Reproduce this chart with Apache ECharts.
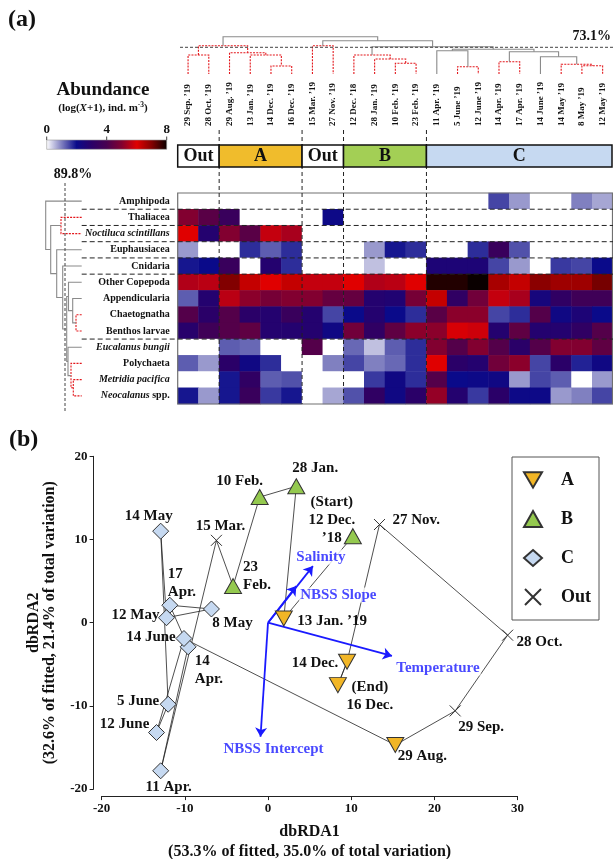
<!DOCTYPE html>
<html>
<head>
<meta charset="utf-8">
<script src="https://cdn.jsdelivr.net/npm/echarts@6/dist/echarts.min.js"></script>
<style>
  html, body { margin: 0; padding: 0; background: #fff; }
  #main { width: 613px; height: 859px; }
</style>
</head>
<body>
<div id="main"></div>
<script>
// ---- heatmap: samples (columns, cluster order) and taxa (rows) ----
const colDates = ["29 Sep. ’19", "28 Oct. ’19", "29 Aug. ’19", "13 Jan. ’19", "14 Dec. ’19", "16 Dec. ’19",
  "15 Mar. ’19", "27 Nov. ’19", "12 Dec. ’18", "28 Jan. ’19", "10 Feb. ’19", "23 Feb. ’19",
  "11 Apr. ’19", "5 June ’19", "12 June ’19", "14 Apr. ’19", "17 Apr. ’19", "14 June ’19",
  "14 May ’19", "8 May ’19", "12 May ’19"];
const taxa = ["Amphipoda", "Thaliacea", "Noctiluca scintillans", "Euphausiacea", "Cnidaria",
  "Other Copepoda", "Appendicularia", "Chaetognatha", "Benthos larvae", "Eucalanus bungii",
  "Polychaeta", "Metridia pacifica", "Neocalanus spp."];

// log(X+1) abundance, one row per taxon
const amphipoda      = [0, 0, 0, 0, 0, 0, 0, 0, 0, 0, 0, 0, 0, 0, 0, 1.5, 0.8, 0, 0, 1.0, 0.7];
const thaliacea      = [5.0, 4.3, 3.5, 0, 0, 0, 0, 2.1, 0, 0, 0, 0, 0, 0, 0, 0, 0, 0, 0, 0, 0];
const noctiluca      = [6.0, 2.8, 5.0, 4.3, 5.7, 5.4, 0, 0, 0, 0, 0, 0, 0, 0, 0, 0, 0, 0, 0, 0, 0];
const euphausiacea   = [0.8, 0, 0, 1.7, 1.3, 1.7, 0, 0, 0, 0.8, 1.9, 1.7, 0, 0, 1.7, 3.5, 1.4, 0, 0, 0, 0];
const cnidaria       = [1.9, 2.0, 3.5, 0, 2.8, 1.7, 0, 0, 0, 0.5, 0, 0, 2.6, 2.6, 2.6, 1.5, 0.8, 0, 1.6, 1.5, 2.0];
const otherCopepoda  = [5.5, 5.6, 7.0, 6.3, 6.0, 6.3, 5.7, 5.7, 6.0, 5.5, 5.6, 6.0, 7.8, 7.8, 8.0, 6.6, 6.3, 6.9, 6.7, 6.7, 7.1];
const appendicularia = [1.3, 2.8, 5.6, 5.1, 4.8, 5.0, 5.0, 4.5, 4.5, 2.8, 2.7, 4.8, 6.3, 3.2, 4.7, 5.7, 5.4, 2.4, 3.2, 3.7, 3.7];
const chaetognatha   = [4.2, 3.0, 4.2, 3.0, 2.8, 3.5, 2.8, 1.5, 2.0, 2.8, 2.0, 1.7, 4.3, 5.1, 5.1, 1.5, 1.7, 4.2, 2.2, 2.6, 2.0];
const benthosLarvae  = [2.9, 3.7, 4.2, 4.4, 2.8, 2.8, 2.8, 2.2, 4.7, 3.2, 4.4, 5.1, 5.1, 5.9, 5.8, 2.8, 4.4, 2.8, 2.8, 3.2, 4.2];
const eucalanus      = [0, 0, 1.3, 1.2, 0, 0, 4.2, 0, 1.2, 0.5, 1.3, 1.7, 5.0, 4.2, 5.0, 4.2, 3.0, 4.2, 5.0, 5.0, 4.4];
const polychaeta     = [1.3, 0.8, 3.0, 2.2, 1.7, 0, 0, 1.0, 1.5, 1.0, 1.2, 1.7, 6.0, 3.0, 2.8, 4.7, 5.1, 1.5, 3.0, 1.8, 2.2];
const metridia       = [0, 0, 1.9, 3.2, 1.3, 1.4, 0, 0, 0, 1.6, 2.2, 1.7, 4.2, 2.0, 2.1, 2.2, 0.8, 1.5, 1.3, 0, 0.8];
const neocalanus     = [1.9, 0.8, 1.9, 3.5, 1.6, 1.9, 0, 0.7, 1.4, 3.2, 2.2, 3.0, 5.2, 2.8, 1.6, 3.0, 2.1, 2.1, 0.8, 1.0, 1.5];
const abundance = [amphipoda, thaliacea, noctiluca, euphausiacea, cnidaria, otherCopepoda, appendicularia,
  chaetognatha, benthosLarvae, eucalanus, polychaeta, metridia, neocalanus];

// clusters of samples (start column of each group)
const clusterNames = ["Out", "A", "Out", "B", "C"];
const clusterStart = [0, 2, 6, 8, 12, 21];
const rowBreaks = [0, 1, 2, 3, 4, 8];   // dashed line below these rows

// dendrograms: [childA, childB, merge height, 'r' = inside a cut group]
const colMerges = [
  [0, 1, 19, "r"], [4, 5, 8, "r"], [3, 22, 19, "r"], [2, 23, 21.3, "r"], [21, 24, 28.3, "r"],
  [6, 7, 28.3, "r"], [10, 11, 10.7, "r"], [9, 27, 15, "r"], [8, 28, 19, "r"],
  [13, 14, 7.3, "r"], [12, 30, 23.3, "g"], [15, 16, 12.3, "r"], [19, 20, 8.3, "r"], [18, 33, 9.7, "r"],
  [17, 34, 17.3, "g"], [32, 35, 22.3, "g"], [31, 36, 24.7, "g"], [29, 37, 27.3, "g"],
  [26, 38, 33.3, "g"], [25, 39, 37.3, "g"]
];
const rowMerges = [
  [1, 2, 20.7, "r"], [7, 8, 5.7, "r"], [6, 14, 9, "g"], [5, 15, 13.2, "g"], [11, 12, 8.4, "r"],
  [10, 17, 10.7, "r"], [9, 18, 13.7, "g"], [16, 19, 15, "g"], [4, 20, 19, "g"], [3, 21, 25, "g"],
  [13, 22, 31, "g"], [0, 23, 36, "g"]
];
const colCut = 26.7, colCutLabel = "73.1%";
const rowCut = 16.7, rowCutLabel = "89.8%";

// ---- dbRDA ordination, samples in time order ----
const rdaNames = ["12 Dec. ’18", "13 Jan. ’19", "28 Jan.", "10 Feb.", "23 Feb.", "15 Mar.", "11 Apr.", "14 Apr.",
  "17 Apr.", "8 May", "12 May", "14 May", "5 June", "12 June", "14 June", "29 Aug.", "29 Sep.", "28 Oct.",
  "27 Nov.", "14 Dec.", "16 Dec."];
const rdaGroup = ["B", "A", "B", "B", "B", "Out", "C", "C", "C", "C", "C", "C", "C", "C", "C", "A", "Out", "Out",
  "Out", "A", "A"];
const rdaX = [10.2, 1.9, 3.4, -1.0, -4.2, -6.2, -12.9, -9.6, -11.8, -6.8, -12.2, -12.9, -12.0, -13.4, -10.1,
  15.3, 22.5, 28.8, 13.4, 9.5, 8.4];
const rdaY = [10.4, 0.5, 16.4, 15.1, 4.4, 9.9, -17.8, -2.9, 2.1, 1.65, 0.6, 11.0, -9.8, -13.2, -1.9,
  -14.7, -10.6, -1.5, 11.8, -4.7, -7.5];
const rdaText = ["(Start)\n12 Dec.\n’18", "13 Jan. ’19", "28 Jan.", "10 Feb.", "23\nFeb.", "15 Mar.", "11 Apr.",
  "14\nApr.", "17\nApr.", "8 May", "12 May", "14 May", "5 June", "12 June", "14 June", "29 Aug.", "29 Sep.",
  "28 Oct.", "27 Nov.", "14 Dec.", "(End)\n16 Dec."];
const groups = ["A", "B", "C", "Out"];

const vecNames = ["Salinity", "NBSS Slope", "Temperature", "NBSS Intercept"];
const vecX = [5.4, 3.4, 14.9, -0.9];
const vecY = [6.8, 4.4, -4.0, -13.7];

// label placement (pixel offset from the point, alignment)
const labelLayout = [
  [-21, -16, "center"], [13.5, 2.5, "left"], [19, -18, "center"], [-20, -16, "center"], [10, -10, "left"],
  [4, -14, "center"], [8, 16, "center"], [6.7, 23, "left"], [-2, -22, "left"], [21, 14, "center"],
  [-31, -3, "center"], [-12, -15, "center"], [-30, -3.5, "center"], [-32, -8, "center"], [-33, -1.5, "center"],
  [27, 11, "center"], [26, 16, "center"], [9, 6.5, "left"], [13, -4.5, "left"], [-32, 1, "center"],
  [32, 11.5, "center"]
];
const vecLabelLayout = [[8, -9], [42, 9], [46, 12], [13, 12]];

const SERIF = "'Liberation Serif', 'Times New Roman', serif";
const abundanceColors = ["#ffffff", "#8080c0", "#0a0a8a", "#2a0068", "#480050", "#820030", "#e00000", "#820000", "#0a0000"];
const groupStyle = {
  A: { symbol: "path://M0,0L20,0L10,17Z", size: [17, 15], color: "#F2B626" },
  B: { symbol: "triangle", size: [17, 15], color: "#94C94F" },
  C: { symbol: "diamond", size: [16, 16], color: "#C6D9F1" },
  Out: { symbol: "path://M0,0L10,10M10,0L0,10", size: [11, 11], color: "rgba(0,0,0,0)" }
};
const clusterColors = { Out: "#ffffff", A: "#F0BC2C", B: "#A3CF55", C: "#C6D9F1" };

// turn a merge list into drawable U-shapes: [xA, hA, xB, hB, h, red]
function dendroSegments(merges, nLeaves) {
  const pos = [], hgt = [];
  for (let i = 0; i < nLeaves; i++) { pos.push(i); hgt.push(0); }
  return merges.map(([a, b, h, c]) => {
    const seg = [pos[a], hgt[a], pos[b], hgt[b], h, c === "r" ? 1 : 0];
    pos.push((pos[a] + pos[b]) / 2);
    hgt.push(h);
    return seg;
  });
}

function segStyle(red) {
  return red
    ? { stroke: "#e3161b", lineWidth: 1.1, lineDash: [2, 1.2], fill: null }
    : { stroke: "#8a8a8a", lineWidth: 1.1, fill: null };
}

const heatData = [];
abundance.forEach((row, r) => row.forEach((v, c) => heatData.push([c, r, v])));

const italic = {
  "Noctiluca scintillans": "{i|Noctiluca scintillans}",
  "Eucalanus bungii": "{i|Eucalanus bungii}",
  "Metridia pacifica": "{i|Metridia pacifica}",
  "Neocalanus spp.": "{i|Neocalanus} spp."
};

const hidden = { show: false };
const labelFont = { fontFamily: SERIF, fontWeight: "bold", color: "#111" };

const groupSeries = groups.map(g => ({
  type: "scatter", name: g, xAxisIndex: 4, yAxisIndex: 3, z: 5,
  symbol: groupStyle[g].symbol, symbolSize: groupStyle[g].size,
  itemStyle: { color: groupStyle[g].color, borderColor: "#333", borderWidth: 1, opacity: 1 },
  emphasis: { disabled: true },
  data: rdaNames.map((n, i) => i).filter(i => rdaGroup[i] === g).map(i => ({
    name: rdaNames[i], value: [rdaX[i], rdaY[i]],
    label: {
      show: true, position: "inside", formatter: rdaText[i],
      offset: [labelLayout[i][0], labelLayout[i][1]], align: labelLayout[i][2], verticalAlign: "middle",
      fontSize: 15, lineHeight: 18, ...labelFont
    }
  }))
}));

const chart = echarts.init(document.getElementById("main"));
chart.setOption({
  animation: false,
  backgroundColor: "#fff",
  textStyle: { fontFamily: SERIF },
  grid: [
    { left: 177.7, right: 0, top: 34, height: 40, outerBoundsMode: "none", containLabel: false },
    { left: 40, width: 41.7, top: 193, height: 211, outerBoundsMode: "none", containLabel: false },
    { left: 177.7, right: 0, top: 193, height: 211, outerBoundsMode: "none", containLabel: false },
    { left: 101.6, top: 456.3, width: 416, height: 332.8, outerBoundsMode: "none", containLabel: false }
  ],
  xAxis: [
    { type: "value", gridIndex: 0, min: -0.5, max: 20.5, show: false },
    { type: "value", gridIndex: 1, min: 0, max: 41.7, inverse: true, show: false },
    { type: "category", gridIndex: 2, data: colDates, show: false },
    {
      type: "category", gridIndex: 2, data: colDates, position: "top", offset: 66,
      axisLine: hidden, axisTick: hidden,
      axisLabel: { rotate: -90, interval: 0, margin: 1, fontSize: 9, ...labelFont }
    },
    {
      type: "value", gridIndex: 3, min: -20, max: 30, interval: 10, offset: 7,
      axisLine: { show: true, onZero: false, lineStyle: { color: "#222", width: 1 } },
      axisTick: { show: true, length: 4, lineStyle: { color: "#222" } },
      axisLabel: { fontSize: 13, margin: 6, ...labelFont },
      splitLine: hidden,
      name: "dbRDA1\n(53.3% of fitted, 35.0% of total variation)", nameLocation: "middle", nameGap: 26,
      nameTextStyle: { fontSize: 16, lineHeight: 20, ...labelFont }
    }
  ],
  yAxis: [
    { type: "value", gridIndex: 0, min: 0, max: 40, show: false },
    { type: "value", gridIndex: 1, min: -0.5, max: 12.5, inverse: true, show: false },
    {
      type: "category", gridIndex: 2, data: taxa, inverse: true,
      axisLine: hidden, axisTick: hidden,
      axisLabel: {
        margin: 8, fontSize: 10, ...labelFont,
        formatter: v => italic[v] || v,
        rich: { i: { fontStyle: "italic", fontSize: 10, ...labelFont } }
      }
    },
    {
      type: "value", gridIndex: 3, min: -20, max: 20, interval: 10, offset: 8,
      axisLine: { show: true, onZero: false, lineStyle: { color: "#222", width: 1 } },
      axisTick: { show: true, length: 4, lineStyle: { color: "#222" } },
      axisLabel: { fontSize: 13, margin: 6, ...labelFont },
      splitLine: hidden,
      name: "dbRDA2\n(32.6% of fitted, 21.4% of total variation)", nameLocation: "middle", nameGap: 36,
      nameRotate: 90, nameTextStyle: { fontSize: 16, lineHeight: 16, ...labelFont }
    }
  ],
  visualMap: {
    type: "continuous", min: 0, max: 8, seriesIndex: 2, show: false,
    inRange: { color: abundanceColors }
  },
  legend: {
    data: groups, orient: "vertical", left: 512, top: 457,
    padding: [14, 8, 14, 11], itemWidth: 18, itemHeight: 16, itemGap: 21,
    borderColor: "#555", borderWidth: 1, selectedMode: false,
    textStyle: { fontSize: 18, padding: [0, 0, 0, 14], ...labelFont }
  },
  series: [
    {
      type: "custom", xAxisIndex: 0, yAxisIndex: 0, clip: false, silent: true,
      data: dendroSegments(colMerges, colDates.length),
      renderItem: (params, api) => {
        const p = (x, y) => api.coord([x, y]);
        const [xa, ha, xb, hb, h] = [0, 1, 2, 3, 4].map(d => api.value(d));
        return {
          type: "polyline",
          shape: { points: [p(xa, ha), p(xa, h), p(xb, h), p(xb, hb)] },
          style: segStyle(api.value(5) === 1)
        };
      }
    },
    {
      type: "custom", xAxisIndex: 1, yAxisIndex: 1, clip: false, silent: true,
      data: dendroSegments(rowMerges, taxa.length),
      renderItem: (params, api) => {
        const p = (y, x) => api.coord([x, y]);
        const [ya, ha, yb, hb, h] = [0, 1, 2, 3, 4].map(d => api.value(d));
        return {
          type: "polyline",
          shape: { points: [p(ya, ha), p(ya, h), p(yb, h), p(yb, hb)] },
          style: segStyle(api.value(5) === 1)
        };
      }
    },
    {
      type: "heatmap", xAxisIndex: 2, yAxisIndex: 2, data: heatData, silent: true,
      itemStyle: { borderWidth: 0 }, emphasis: { disabled: true }
    },
    {
      type: "line", xAxisIndex: 4, yAxisIndex: 3, z: 1, silent: true,
      showSymbol: false, symbol: "none",
      lineStyle: { color: "#222", width: 0.8 },
      data: rdaX.map((x, i) => [x, rdaY[i]])
    },
    {
      type: "lines", coordinateSystem: "cartesian2d", xAxisIndex: 4, yAxisIndex: 3, z: 1, silent: true,
      symbol: ["none", "arrow"], symbolSize: 6,
      lineStyle: { color: "#222", width: 0.8, opacity: 1 },
      data: [{ coords: [[rdaX[19], rdaY[19]], [rdaX[20], rdaY[20]]] }]
    },
    {
      type: "lines", coordinateSystem: "cartesian2d", xAxisIndex: 4, yAxisIndex: 3, z: 4, silent: true,
      symbol: ["none", "arrow"], symbolSize: 9,
      lineStyle: { color: "#1a1aff", width: 1.8, opacity: 1 },
      data: vecNames.map((n, i) => ({ coords: [[0, 0], [vecX[i], vecY[i]]] }))
    },
    {
      type: "scatter", xAxisIndex: 4, yAxisIndex: 3, z: 2, silent: true,
      symbolSize: 0.1, itemStyle: { color: "rgba(0,0,0,0)" },
      data: vecNames.map((n, i) => ({
        name: n, value: [vecX[i], vecY[i]],
        label: {
          show: true, position: "inside", formatter: n, offset: vecLabelLayout[i],
          align: "center", verticalAlign: "middle", fontSize: 15,
          fontFamily: SERIF, fontWeight: "bold", color: "#1a1aff",
          backgroundColor: "#fff", padding: [0, 1]
        }
      }))
    },
    ...groupSeries
  ]
});

// ---- decorations placed through the axes ----
const cx = v => chart.convertToPixel({ xAxisIndex: 0 }, v);
const cy = v => chart.convertToPixel({ yAxisIndex: 0 }, v);
const rx = v => chart.convertToPixel({ xAxisIndex: 1 }, v);
const ry = v => chart.convertToPixel({ yAxisIndex: 1 }, v);
const font = (size, extra) => `${extra || "bold"} ${size}px ${SERIF}`;
const els = [];

const hmLeft = cx(-0.5), hmRight = cx(colDates.length - 0.5);
const hmTop = ry(-0.5), hmBottom = ry(taxa.length - 0.5);
els.push({
  type: "rect", z: 20, silent: true,
  shape: { x: hmLeft, y: hmTop, width: hmRight - hmLeft - 0.5, height: hmBottom - hmTop },
  style: { fill: null, stroke: "#707070", lineWidth: 1.2 }
});
rowBreaks.forEach(r => {
  const y = ry(r + 0.5);
  els.push({
    type: "line", z: 21, silent: true, shape: { x1: rx(0), y1: y, x2: hmRight, y2: y },
    style: { stroke: "#222", lineWidth: 1, lineDash: [5, 3] }
  });
});
clusterStart.slice(1, -1).forEach(b => {
  const x = cx(b - 0.5);
  els.push({
    type: "line", z: 21, silent: true, shape: { x1: x, y1: 130, x2: x, y2: hmBottom },
    style: { stroke: "#222", lineWidth: 1, lineDash: [4, 3] }
  });
});
clusterNames.forEach((n, i) => {
  const x0 = cx(clusterStart[i] - 0.5), x1 = Math.min(cx(clusterStart[i + 1] - 0.5), 612);
  els.push({
    type: "rect", z: 22, silent: true, shape: { x: x0, y: 145, width: x1 - x0, height: 22 },
    style: { fill: clusterColors[n], stroke: "#111", lineWidth: 1.5 }
  });
  els.push({
    type: "text", z: 23, silent: true, x: (x0 + x1) / 2, y: 156.5,
    style: { text: n, font: font(18), fill: "#111", align: "center", verticalAlign: "middle" }
  });
});
// cut lines of both dendrograms
const cutY = cy(colCut);
els.push({
  type: "line", z: 21, silent: true, shape: { x1: 180, y1: cutY, x2: hmRight, y2: cutY },
  style: { stroke: "#444", lineWidth: 1, lineDash: [3, 2] }
});
els.push({
  type: "text", z: 21, silent: true, x: 611, y: cutY - 11,
  style: { text: colCutLabel, font: font(14), fill: "#111", align: "right", verticalAlign: "middle" }
});
const cutX = rx(rowCut);
els.push({
  type: "line", z: 21, silent: true, shape: { x1: cutX, y1: 183, x2: cutX, y2: 411 },
  style: { stroke: "#444", lineWidth: 1, lineDash: [3, 2] }
});
els.push({
  type: "text", z: 21, silent: true, x: 73, y: 174,
  style: { text: rowCutLabel, font: font(14), fill: "#111", align: "center", verticalAlign: "middle" }
});
// colour scale
els.push({
  type: "text", silent: true, x: 103, y: 90,
  style: { text: "Abundance", font: font(19), fill: "#111", align: "center", verticalAlign: "middle" }
});
els.push({
  type: "text", silent: true, x: 103, y: 108,
  style: {
    text: "(log({i|X}+1), ind. m{s|-3})", font: font(11), fill: "#111", align: "center", verticalAlign: "middle",
    rich: { i: { font: font(11, "italic bold"), fill: "#111" }, s: { font: font(7.5), fill: "#111", padding: [0, 0, 6, 0] } }
  }
});
els.push({
  type: "rect", silent: true, shape: { x: 46.7, y: 140, width: 120, height: 9.3 },
  style: {
    fill: new echarts.graphic.LinearGradient(0, 0, 1, 0,
      abundanceColors.map((c, i) => ({ offset: i / (abundanceColors.length - 1), color: c }))),
    stroke: "#999", lineWidth: 0.6
  }
});
[0, 4, 8].forEach(v => {
  const x = 46.7 + v / 8 * 120;
  els.push({ type: "line", silent: true, shape: { x1: x, y1: 136.5, x2: x, y2: 140 }, style: { stroke: "#444", lineWidth: 1 } });
  els.push({
    type: "text", silent: true, x: x, y: 130,
    style: { text: String(v), font: font(13), fill: "#111", align: "center", verticalAlign: "middle" }
  });
});
els.push({ type: "text", silent: true, x: 8, y: 20, style: { text: "(a)", font: font(24), fill: "#111", verticalAlign: "middle" } });
els.push({ type: "text", silent: true, x: 9, y: 440, style: { text: "(b)", font: font(24), fill: "#111", verticalAlign: "middle" } });

chart.setOption({ graphic: els });
</script>
</body>
</html>
